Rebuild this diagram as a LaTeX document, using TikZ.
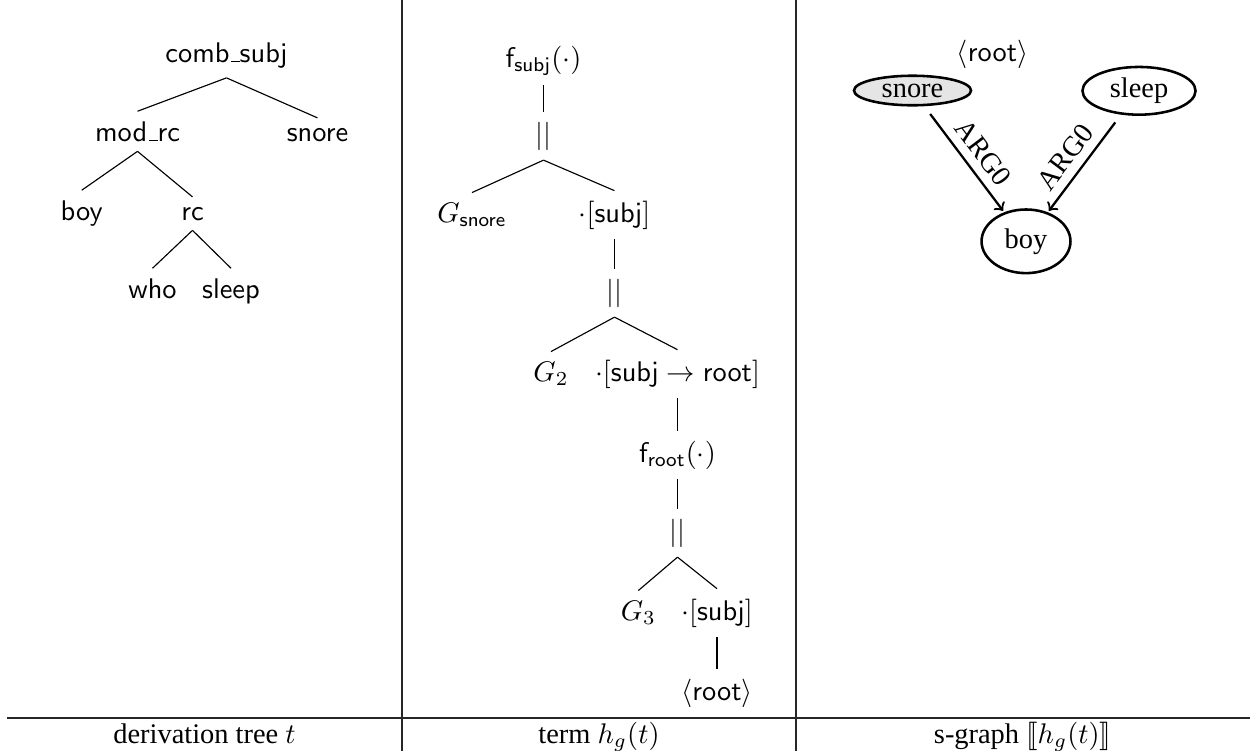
\documentclass[tikz,border=0pt]{standalone}
\usepackage[no-math]{fontspec}
\usepackage{stmaryrd}
\usetikzlibrary{shapes.geometric}
\newfontfamily\tms{Liberation Serif}
\newcommand{\usc}{\leavevmode\kern.06em\vbox{\hrule width.3em}}
\begin{document}
\begin{tikzpicture}[x=0.352pt,y=-0.352pt,
  tn/.style={anchor=base,font=\sffamily},
  mn/.style={anchor=base},
  captxt/.style={anchor=base,font=\tms},
  edge/.style={line width=0.4pt},
  rulel/.style={line width=0.4pt,black!85},
  gnode/.style={ellipse,draw,line width=0.9pt,font=\tms,inner sep=0pt},
  arr/.style={->,thick,shorten <=3.4pt,shorten >=0.6pt},
  lab/.style={font=\tms,inner sep=3pt}]
\useasboundingbox (0,0) rectangle (1250,751);
% table rules
\draw[rulel] (402,0) -- (402,751);
\draw[rulel] (796,0) -- (796,751);
\draw[rulel] (7,718) -- (1250,718);
% column 1: derivation tree
\node[tn] (comb) at (226.5,62) {comb\usc subj};
\node[tn] (modrc) at (137.5,141) {mod\usc rc};
\node[tn] (snoreT) at (317.5,141) {snore};
\node[tn] (boyT) at (81.7,220) {boy};
\node[tn] (rc) at (192.5,220) {rc};
\node[tn] (who) at (152.5,298) {who};
\node[tn] (sleepT) at (231,298) {sleep};
\draw[edge] (comb.south) -- (modrc.north);
\draw[edge] (comb.south) -- (snoreT.north);
\draw[edge] (modrc.south) -- (boyT.north);
\draw[edge] (modrc.south) -- (rc.north);
\draw[edge] (rc.south) -- (who.north);
\draw[edge] (rc.south) -- (sleepT.north);
% column 2: term
\node[mn] (fsubj) at (543.5,67) {$\mathsf{f}_{\mathsf{subj}}(\cdot)$};
\node[mn] (b1) at (543.5,143) {$||$};
\node[mn] (gsn) at (472,222) {$G_{\mathsf{snore}}$};
\node[mn] (s1) at (614.5,222) {$\cdot[\mathsf{subj}]$};
\node[mn] (b2) at (614.5,300) {$||$};
\node[mn] (g2) at (551,381) {$G_2$};
\node[mn] (s2) at (677.5,381) {$\cdot[\mathsf{subj}\to\mathsf{root}]$};
\node[mn] (froot) at (677.5,462) {$\mathsf{f}_{\mathsf{root}}(\cdot)$};
\node[mn] (b3) at (677.5,540) {$||$};
\node[mn] (g3) at (638.3,620) {$G_3$};
\node[mn] (s3) at (717,620) {$\cdot[\mathsf{subj}]$};
\node[mn] (rt) at (717,700) {$\langle\mathsf{root}\rangle$};
\draw[edge] (fsubj.south) -- (b1.north);
\draw[edge] (b1.south) -- (gsn.north);
\draw[edge] (b1.south) -- (s1.north);
\draw[edge] (s1.south) -- (b2.north);
\draw[edge] (b2.south) -- (g2.north);
\draw[edge] (b2.south) -- (s2.north);
\draw[edge] (s2.south) -- (froot.north);
\draw[edge] (froot.south) -- (b3.north);
\draw[edge] (b3.south) -- (g3.north);
\draw[edge] (b3.south) -- (s3.north);
\draw[edge] (s3.south) -- (rt.north);
% column 3: s-graph
\node[mn] (rootlbl) at (992.5,61) {$\langle\mathsf{root}\rangle$};
\node[gnode,fill=black!10,minimum width=41.2pt,minimum height=10.4pt] (snore) at (912.5,90.5) {snore};
\node[gnode,minimum width=39.8pt,minimum height=16.8pt] (sleep) at (1139,90.8) {sleep};
\node[gnode,minimum width=31.3pt,minimum height=22.4pt] (boy) at (1026,241.3) {boy};
\draw[arr] (snore) -- node[lab,pos=0.55,sloped,above] (l1) {ARG0} (boy);
\draw[arr] (sleep) -- node[lab,pos=0.55,sloped,above] (l2) {ARG0} (boy);
% captions
\node[captxt] (c1) at (204.5,743) {derivation tree $t$};
\node[captxt] (c2) at (599,743) {term $h_g(t)$};
\node[captxt] (c3) at (1022.5,743) {s-graph $\llbracket h_g(t)\rrbracket$};
\end{tikzpicture}
\end{document}
